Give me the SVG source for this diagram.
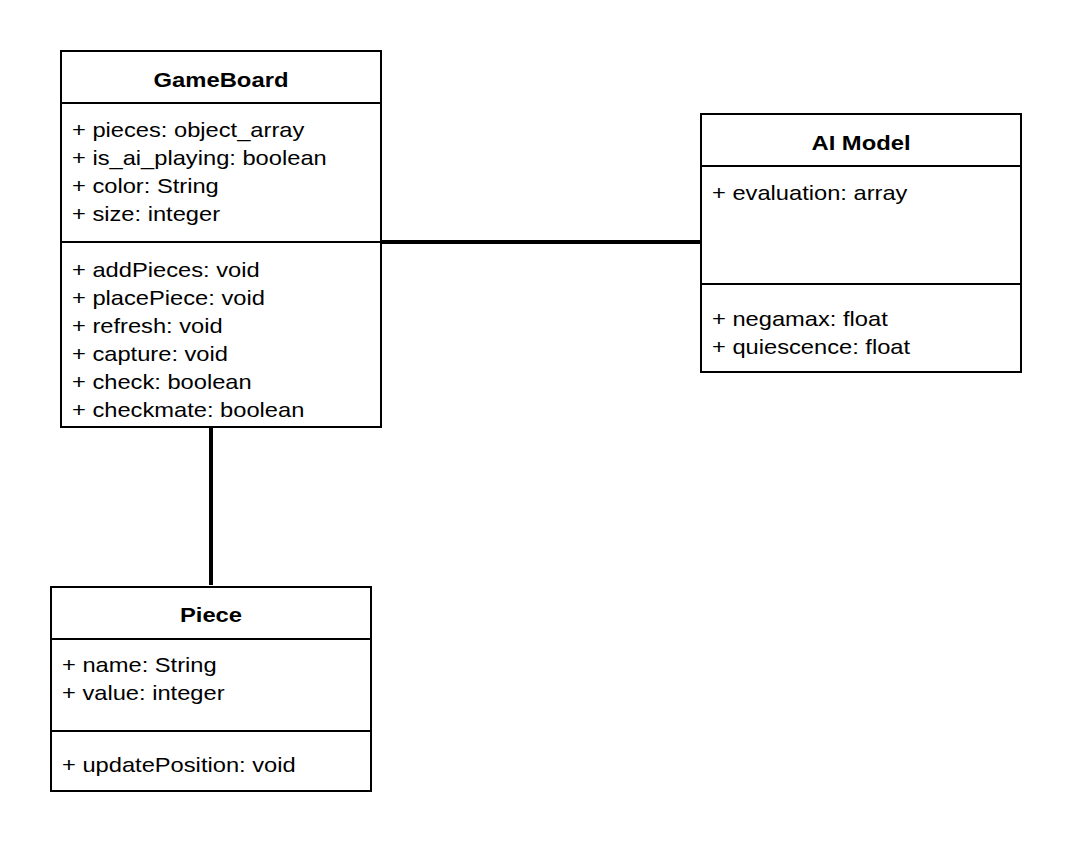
<svg xmlns="http://www.w3.org/2000/svg" width="1072" height="848" viewBox="0 0 1072 848">
<style>
.box{fill:#fff;stroke:#000;stroke-width:2}
.sep{stroke:#000;stroke-width:2}
.t{font-family:"Liberation Sans",Arial,sans-serif;font-size:20px;fill:#000}
.h{font-family:"Liberation Sans",Arial,sans-serif;font-size:20px;font-weight:bold;fill:#000;text-anchor:middle}
.c{stroke:#000;stroke-width:4;fill:none}
</style>
<rect width="1072" height="848" fill="#fff"/>
<g id="connectors">
<line class="c" x1="381" y1="242" x2="701" y2="242"/>
<line class="c" x1="211" y1="427" x2="211" y2="585"/>
</g>
<g id="gameboard">
<rect class="box" x="61" y="51" width="320" height="376"/>
<line class="sep" x1="61" y1="103" x2="381" y2="103"/>
<line class="sep" x1="61" y1="242" x2="381" y2="242"/>
<g transform="translate(221 0) scale(1.19 1)"><text class="h" x="0" y="87">GameBoard</text></g>
<g transform="translate(72 0) scale(1.185 1)">
<text class="t" x="0" y="137">+ pieces: object_array</text>
<text class="t" x="0" y="165">+ is_ai_playing: boolean</text>
<text class="t" x="0" y="193">+ color: String</text>
<text class="t" x="0" y="221">+ size: integer</text>
<text class="t" x="0" y="277">+ addPieces: void</text>
<text class="t" x="0" y="305">+ placePiece: void</text>
<text class="t" x="0" y="333">+ refresh: void</text>
<text class="t" x="0" y="361">+ capture: void</text>
<text class="t" x="0" y="389">+ check: boolean</text>
<text class="t" x="0" y="417">+ checkmate: boolean</text>
</g>
</g>
<g id="aimodel">
<rect class="box" x="701" y="114" width="320" height="258"/>
<line class="sep" x1="701" y1="166" x2="1021" y2="166"/>
<line class="sep" x1="701" y1="284" x2="1021" y2="284"/>
<g transform="translate(861 0) scale(1.19 1)"><text class="h" x="0" y="150">AI Model</text></g>
<g transform="translate(712 0) scale(1.185 1)">
<text class="t" x="0" y="200">+ evaluation: array</text>
<text class="t" x="0" y="326">+ negamax: float</text>
<text class="t" x="0" y="354">+ quiescence: float</text>
</g>
</g>
<g id="piece">
<rect class="box" x="51" y="587" width="320" height="204"/>
<line class="sep" x1="51" y1="639" x2="371" y2="639"/>
<line class="sep" x1="51" y1="731" x2="371" y2="731"/>
<g transform="translate(211 0) scale(1.19 1)"><text class="h" x="0" y="622">Piece</text></g>
<g transform="translate(62 0) scale(1.185 1)">
<text class="t" x="0" y="672">+ name: String</text>
<text class="t" x="0" y="700">+ value: integer</text>
<text class="t" x="0" y="772">+ updatePosition: void</text>
</g>
</g>
</svg>
